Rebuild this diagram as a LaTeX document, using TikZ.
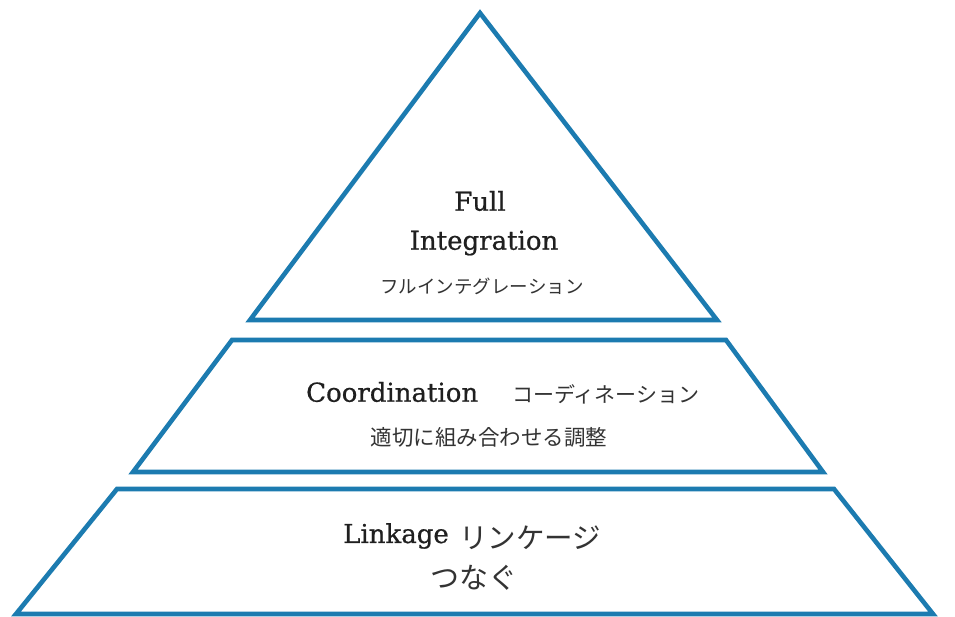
\documentclass[tikz,border=0pt]{standalone}
\usepackage{fontspec}
\newfontfamily\jp{Noto Sans CJK JP}
\newfontfamily\lat[FakeBold=0.7]{DejaVu Serif}
\definecolor{tierblue}{HTML}{1C7BB0}
\begin{document}
\begin{tikzpicture}[x=1pt,y=-1pt,
  tier/.style={draw=tierblue,line width=4.6pt,line join=miter},
  entxt/.style={inner sep=0pt,font=\lat\fontsize{26}{29}\selectfont,text=black!88},
  jptxt/.style={inner sep=0pt,text=black!80}]
\useasboundingbox (0,0) rectangle (955,617);
\fill[white] (0,0) rectangle (955,617);

% three tiers of the pyramid
\draw[tier] (480,13) -- (717,320) -- (250,320) -- cycle;
\draw[tier] (232,340) -- (726,340) -- (823,472) -- (133,472) -- cycle;
\draw[tier] (117,489) -- (834,489) -- (933,614) -- (16,614) -- cycle;

% top tier
\node[entxt] (full) at (480,201) {Full};
\node[entxt] (integ) at (484,243) {Integration};
\node[jptxt,font=\jp\fontsize{18.5}{21}\selectfont] (integjp) at (482,286) {フルインテグレーション};

% middle tier
\node[entxt,anchor=west] (coord) at (306,392) {Coordination};
\node[jptxt,font=\jp\fontsize{21}{24}\selectfont,anchor=west] (coordjp) at (512,394) {コーディネーション};
\node[jptxt,font=\jp\fontsize{21.5}{24}\selectfont] (coordsub) at (489,437) {適切に組み合わせる調整};

% bottom tier
\node[entxt,anchor=west] (link) at (343,536) {Linkage};
\node[jptxt,font=\jp\fontsize{28.5}{32}\selectfont,anchor=west] (linkjp) at (459,538) {リンケージ};
\node[jptxt,font=\jp\fontsize{29}{32}\selectfont] (linksub) at (474,578) {つなぐ};
\end{tikzpicture}
\end{document}
